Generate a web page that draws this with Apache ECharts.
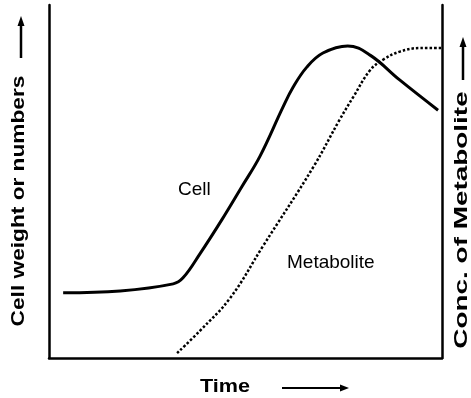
<!DOCTYPE html>
<html>
<head>
<meta charset="utf-8">
<script src="https://cdn.jsdelivr.net/npm/echarts@6/dist/echarts.min.js"></script>
<style>
  html, body { margin: 0; padding: 0; background: #fff; }
  #chart { width: 471px; height: 398px; }
</style>
</head>
<body>
<div id="chart"></div>
<script>
// Growth curve: cell mass and metabolite concentration over time (arbitrary units 0-100)
const cellTime  = [3.6, 18.1, 31.6, 34.1, 38.4, 44.0, 49.1, 53.7, 59.5, 62.1, 65.6, 69.7, 76.0, 81.7, 89.3, 99.0];
const cellLevel = [18.5, 19.0, 21.0, 22.7, 29.5, 39.2, 48.6, 57.2, 71.0, 76.7, 82.4, 86.4, 88.4, 85.8, 78.7, 70.2];

const metaboliteTime  = [32.6, 38.4, 46.1, 54.5, 67.2, 74.0, 77.4, 81.7, 85.0, 89.3, 94.4, 100];
const metaboliteLevel = [1.4, 7.7, 17.0, 31.8, 54.0, 67.6, 73.9, 81.5, 84.5, 86.8, 87.8, 87.8];

const leftAxisTitle  = 'Cell weight or numbers';
const rightAxisTitle = 'Conc. of Metabolite';
const timeTitle      = 'Time';
const cellTag        = 'Cell';
const metaboliteTag  = 'Metabolite';

const zip = (xs, ys) => xs.map((x, i) => [x, ys[i]]);

const boldFont = 'bold 18px "Liberation Sans", Arial, sans-serif';
const plainFont = '19px "Liberation Sans", Arial, sans-serif';

const chart = echarts.init(document.getElementById('chart'), null, { renderer: 'canvas' });

const axisLine = { show: true, lineStyle: { color: '#000', width: 2.5 } };

chart.setOption({
  animation: false,
  backgroundColor: '#fff',
  grid: { left: 49, right: 29, top: 5, bottom: 40 },
  xAxis: {
    type: 'value', min: 0, max: 100,
    axisLine: axisLine, axisTick: { show: false }, axisLabel: { show: false }, splitLine: { show: false }
  },
  yAxis: [
    {
      type: 'value', min: 0, max: 100, position: 'left',
      axisLine: axisLine, axisTick: { show: false }, axisLabel: { show: false }, splitLine: { show: false }
    },
    {
      type: 'value', min: 0, max: 100, position: 'right',
      axisLine: axisLine, axisTick: { show: false }, axisLabel: { show: false }, splitLine: { show: false }
    }
  ],
  series: [
    {
      name: cellTag, type: 'line', yAxisIndex: 0, smooth: 0.4, symbol: 'none',
      data: zip(cellTime, cellLevel),
      lineStyle: { color: '#000', width: 3 }
    },
    {
      name: metaboliteTag, type: 'line', yAxisIndex: 1, smooth: 0.4, symbol: 'none',
      data: zip(metaboliteTime, metaboliteLevel),
      lineStyle: { color: '#000', width: 2.5, type: [2.5, 2] }
    }
  ],
  graphic: [
    // axis titles
    { type: 'text', x: 19, y: 201, rotation: Math.PI / 2, scaleX: 1.26,
      style: { text: leftAxisTitle, font: boldFont, fill: '#000', align: 'center', verticalAlign: 'middle' } },
    { type: 'text', x: 462, y: 220, rotation: Math.PI / 2, scaleX: 1.55,
      style: { text: rightAxisTitle, font: boldFont, fill: '#000', align: 'center', verticalAlign: 'middle' } },
    { type: 'text', x: 225, y: 387, scaleX: 1.2,
      style: { text: timeTitle, font: boldFont, fill: '#000', align: 'center', verticalAlign: 'middle' } },
    // curve tags
    { type: 'text', x: 178, y: 190,
      style: { text: cellTag, font: plainFont, fill: '#000', align: 'left', verticalAlign: 'middle' } },
    { type: 'text', x: 287, y: 263,
      style: { text: metaboliteTag, font: plainFont, fill: '#000', align: 'left', verticalAlign: 'middle' } },
    // direction arrows
    { type: 'line', shape: { x1: 21, y1: 58, x2: 21, y2: 24 }, style: { stroke: '#000', lineWidth: 2.5 } },
    { type: 'polygon', shape: { points: [[21, 16], [17.5, 26], [24.5, 26]] }, style: { fill: '#000' } },
    { type: 'line', shape: { x1: 463, y1: 80, x2: 463, y2: 45 }, style: { stroke: '#000', lineWidth: 2.5 } },
    { type: 'polygon', shape: { points: [[463, 37], [459.5, 47], [466.5, 47]] }, style: { fill: '#000' } },
    { type: 'line', shape: { x1: 282, y1: 388, x2: 342, y2: 388 }, style: { stroke: '#000', lineWidth: 2 } },
    { type: 'polygon', shape: { points: [[349, 388], [340, 384.5], [340, 391.5]] }, style: { fill: '#000' } }
  ]
});
</script>
</body>
</html>
